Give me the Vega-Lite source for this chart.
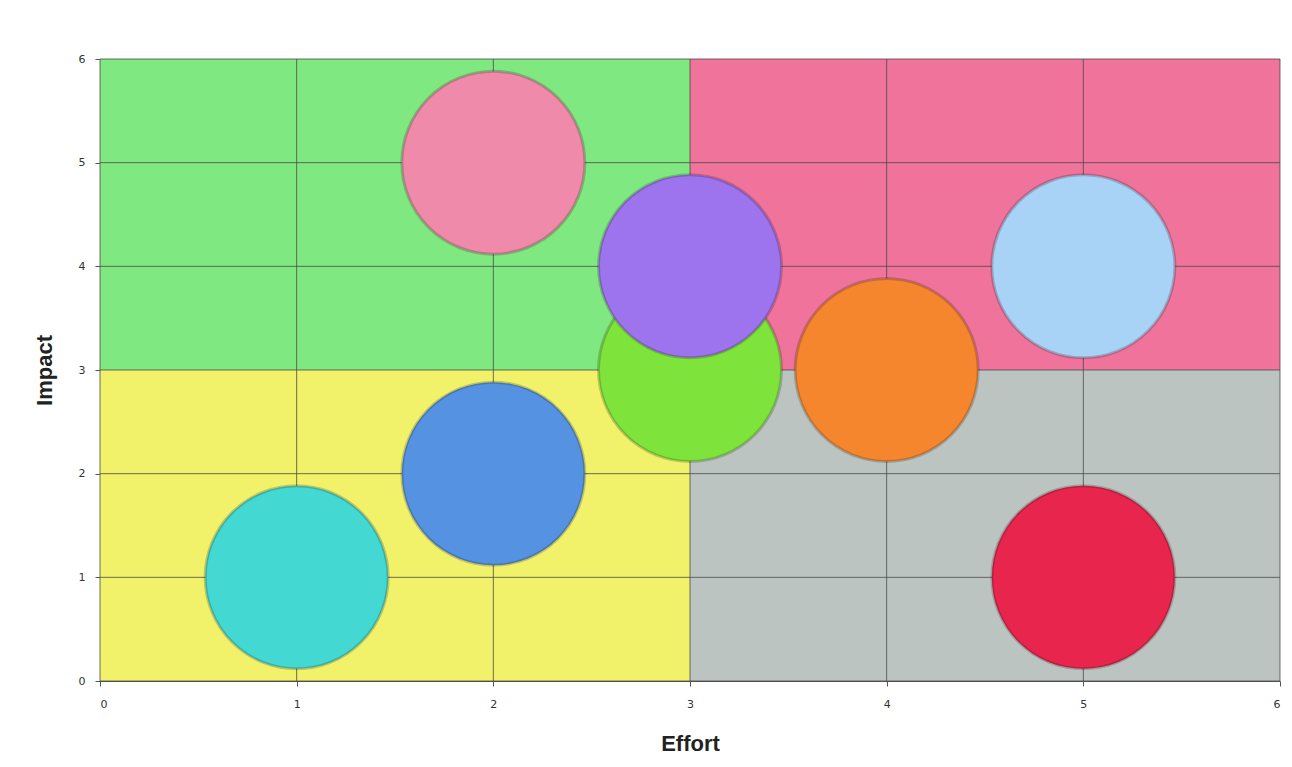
{
  "$schema": "https://vega.github.io/schema/vega-lite/v6.json",
  "width": 1180,
  "height": 622,
  "autosize": {"type": "none"},
  "padding": {"left": 100, "top": 59, "right": 12, "bottom": 86},
  "background": "#ffffff",
  "config": {"view": {"stroke": null}},
  "resolve": {"scale": {"color": "independent"}},
  "datasets": {
    "quadrants": [
      {"x0": 0, "x1": 3, "y0": 3, "y1": 6, "zone": "Quick wins"},
      {"x0": 3, "x1": 6, "y0": 3, "y1": 6, "zone": "Major projects"},
      {"x0": 0, "x1": 3, "y0": 0, "y1": 3, "zone": "Fill-ins"},
      {"x0": 3, "x1": 6, "y0": 0, "y1": 3, "zone": "Thankless tasks"}
    ],
    "grid": [{"v": 0}, {"v": 1}, {"v": 2}, {"v": 3}, {"v": 4}, {"v": 5}, {"v": 6}],
    "items": [
      {"id": "A", "effort": 2, "impact": 5},
      {"id": "B", "effort": 5, "impact": 4},
      {"id": "C", "effort": 3, "impact": 3},
      {"id": "D", "effort": 3, "impact": 4},
      {"id": "E", "effort": 4, "impact": 3},
      {"id": "F", "effort": 2, "impact": 2},
      {"id": "G", "effort": 1, "impact": 1},
      {"id": "H", "effort": 5, "impact": 1}
    ]
  },
  "layer": [
    {
      "data": {"name": "quadrants"},
      "mark": {"type": "rect"},
      "encoding": {
        "x": {"field": "x0", "type": "quantitative", "scale": {"domain": [0, 6], "nice": false},
          "axis": {"title": "Effort", "values": [0,1,2,3,4,5,6], "format": "d", "grid": false,
            "domainColor": "#555555", "tickColor": "#555555", "tickSize": 5,
            "labelFont": "DejaVu Sans", "labelFontSize": 11, "labelColor": "#333333", "labelPadding": 12,
            "titleFont": "Liberation Sans", "titleFontSize": 22, "titleFontWeight": "bold", "titleColor": "#222222", "titlePadding": 24}},
        "x2": {"field": "x1"},
        "y": {"field": "y0", "type": "quantitative", "scale": {"domain": [0, 6], "nice": false},
          "axis": {"title": "Impact", "values": [0,1,2,3,4,5,6], "format": "d", "grid": false,
            "domainColor": "#555555", "tickColor": "#555555", "tickSize": 5,
            "labelFont": "DejaVu Sans", "labelFontSize": 11, "labelColor": "#333333", "labelPadding": 10,
            "titleFont": "Liberation Sans", "titleFontSize": 22, "titleFontWeight": "bold", "titleColor": "#222222", "titlePadding": 22}},
        "y2": {"field": "y1"},
        "color": {"field": "zone", "type": "nominal", "legend": null,
          "scale": {"domain": ["Quick wins", "Major projects", "Fill-ins", "Thankless tasks"],
                    "range": ["#80e880", "#f0739c", "#f2f26a", "#bcc4c2"]}}
      }
    },
    {
      "data": {"name": "grid"},
      "mark": {"type": "rule", "color": "#4a4a4a", "strokeWidth": 1, "opacity": 0.8},
      "encoding": {"x": {"field": "v", "type": "quantitative"}}
    },
    {
      "data": {"name": "grid"},
      "mark": {"type": "rule", "color": "#4a4a4a", "strokeWidth": 1, "opacity": 0.8},
      "encoding": {"y": {"field": "v", "type": "quantitative"}}
    },
    {
      "data": {"name": "items"},
      "mark": {"type": "point", "shape": "circle", "filled": true, "opacity": 1, "size": 33500, "stroke": "#00000030", "strokeWidth": 3},
      "encoding": {
        "x": {"field": "effort", "type": "quantitative"},
        "y": {"field": "impact", "type": "quantitative"},
        "color": {"field": "id", "type": "nominal", "legend": null,
          "scale": {"domain": ["A","B","C","D","E","F","G","H"],
                    "range": ["#f08aaa", "#a9d3f6", "#7ee43c", "#9e74ee", "#f5862e", "#5592e2", "#44d8d2", "#e8254c"]}},
        "order": {"field": "id", "type": "ordinal"}
      }
    }
  ]
}
